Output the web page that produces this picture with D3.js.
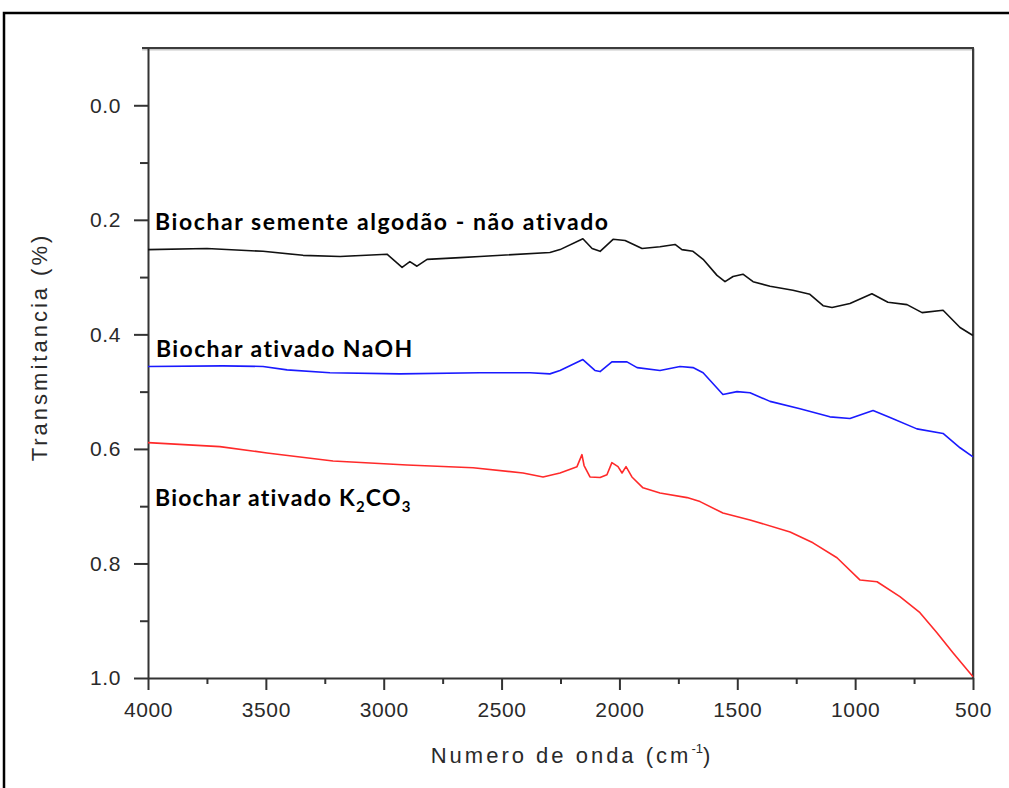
<!DOCTYPE html>
<html>
<head>
<meta charset="utf-8">
<script src="https://cdn.jsdelivr.net/npm/d3@7"></script>
<style>
  html, body { margin: 0; padding: 0; background: #fff; }
  svg { display: block; }
</style>
</head>
<body>
<script>
// ---------- DATA ----------
const xTicks = [4000, 3500, 3000, 2500, 2000, 1500, 1000, 500];
const xMinorTicks = [3750, 3250, 2750, 2250, 1750, 1250, 750];
const yTicks = [0.0, 0.2, 0.4, 0.6, 0.8, 1.0];
const yMinorTicks = [0.1, 0.3, 0.5, 0.7, 0.9];

const seriesNames = ["Biochar semente algodão - não ativado", "Biochar ativado NaOH", "Biochar ativado K2CO3"];
const seriesColors = ["#111111", "#1a1aff", "#ff2a2a"];

const naoAtivadoWn = [4000, 3750, 3512, 3342, 3185, 2986, 2922, 2889, 2859, 2816, 2676, 2592, 2295, 2252, 2155, 2116, 2082, 2027, 1976, 1904, 1828, 1764, 1735, 1688, 1645, 1586, 1552, 1518, 1476, 1433, 1361, 1264, 1192, 1136, 1098, 1022, 929, 861, 780, 716, 627, 555, 500];
const naoAtivadoT  = [0.252, 0.250, 0.255, 0.262, 0.264, 0.260, 0.283, 0.273, 0.281, 0.269, 0.266, 0.264, 0.257, 0.252, 0.233, 0.250, 0.255, 0.234, 0.236, 0.250, 0.247, 0.243, 0.252, 0.255, 0.269, 0.297, 0.308, 0.299, 0.295, 0.308, 0.316, 0.323, 0.330, 0.350, 0.353, 0.346, 0.329, 0.344, 0.348, 0.362, 0.358, 0.388, 0.402];

const naohWn = [4000, 3682, 3512, 3410, 3228, 2931, 2592, 2379, 2295, 2252, 2155, 2104, 2082, 2032, 1968, 1925, 1828, 1743, 1688, 1645, 1561, 1501, 1446, 1361, 1234, 1107, 1022, 924, 852, 738, 627, 555, 500];
const naohT  = [0.456, 0.455, 0.456, 0.462, 0.467, 0.469, 0.467, 0.467, 0.469, 0.463, 0.444, 0.463, 0.465, 0.448, 0.448, 0.458, 0.463, 0.456, 0.458, 0.467, 0.505, 0.500, 0.502, 0.517, 0.530, 0.544, 0.547, 0.533, 0.545, 0.565, 0.573, 0.598, 0.614];

const k2co3Wn = [4000, 3695, 3495, 3215, 2901, 2621, 2409, 2324, 2252, 2180, 2159, 2150, 2125, 2082, 2053, 2032, 2006, 1989, 1972, 1947, 1900, 1828, 1713, 1658, 1561, 1446, 1276, 1179, 1077, 979, 907, 810, 725, 653, 585, 500];
const k2co3T  = [0.589, 0.596, 0.607, 0.621, 0.628, 0.633, 0.642, 0.649, 0.642, 0.631, 0.610, 0.629, 0.649, 0.650, 0.645, 0.624, 0.631, 0.642, 0.631, 0.649, 0.668, 0.677, 0.685, 0.692, 0.712, 0.724, 0.745, 0.764, 0.790, 0.829, 0.832, 0.858, 0.886, 0.921, 0.956, 0.998];

// ---------- LAYOUT ----------
const W = 1009, H = 788;
const pL = 148, pR = 973, pT = 48, pB = 678;

const svg = d3.select("body").append("svg").attr("width", W).attr("height", H);

// outer frame
svg.append("rect").attr("x", 4).attr("y", 13).attr("width", 1100).attr("height", 900)
  .attr("fill", "none").attr("stroke", "#000").attr("stroke-width", 2.5);

const x = d3.scaleLinear().domain([4000, 500]).range([pL, pR]);
const y = d3.scaleLinear().domain([-0.1, 1.0]).range([pT, pB]);

// top / right frame of plot
svg.append("path")
  .attr("d", `M${pL - 6},${pT + 1.5} L${pR + 1},${pT + 1.5} L${pR + 1},${pB}`)
  .attr("fill", "none").attr("stroke", "#c8c8c8").attr("stroke-width", 2);
svg.append("path")
  .attr("d", `M${pL - 6},${pT} L${pR},${pT} L${pR},${pB}`)
  .attr("fill", "none").attr("stroke", "#3c3c3c").attr("stroke-width", 2);

const tickFont = "'Liberation Sans', Arial, sans-serif";

// Y axis
svg.append("g").attr("transform", `translate(${pL},0)`)
  .call(d3.axisLeft(y).tickValues(yTicks).tickFormat(d3.format(".1f")).tickSize(14).tickSizeOuter(0).tickPadding(13));
svg.append("g").attr("transform", `translate(${pL},0)`)
  .call(d3.axisLeft(y).tickValues(yMinorTicks).tickFormat("").tickSize(8).tickSizeOuter(0))
  .select(".domain").remove();

// X axis
svg.append("g").attr("transform", `translate(0,${pB})`)
  .call(d3.axisBottom(x).tickValues(xTicks).tickFormat(d3.format("d")).tickSize(12).tickSizeOuter(0).tickPadding(12));
svg.append("g").attr("transform", `translate(0,${pB})`)
  .call(d3.axisBottom(x).tickValues(xMinorTicks).tickFormat("").tickSize(6).tickSizeOuter(0))
  .select(".domain").remove();

svg.selectAll(".domain").attr("stroke", "#333").attr("stroke-width", 2);
svg.selectAll(".tick line").attr("stroke", "#333").attr("stroke-width", 2);
svg.selectAll(".tick text").attr("fill", "#2a2a2a").style("font-family", tickFont)
  .style("font-size", "21px").style("letter-spacing", "0.6px");

// axis titles
svg.append("text")
  .attr("transform", `translate(47,347) rotate(-90)`)
  .attr("text-anchor", "middle")
  .style("font-family", tickFont).style("font-size", "22px").style("letter-spacing", "3px")
  .attr("fill", "#2a2a2a")
  .text("Transmitancia (%)");

const xt = svg.append("text")
  .attr("x", 572).attr("y", 763)
  .attr("text-anchor", "middle")
  .style("font-family", tickFont).style("font-size", "22px").style("letter-spacing", "3px")
  .attr("fill", "#2a2a2a");
xt.append("tspan").text("Numero de onda (cm");
xt.append("tspan").attr("dy", -10).style("font-size", "13px").style("letter-spacing", "0px").text("-1");
xt.append("tspan").attr("dy", 10).text(")");

// ---------- LINES ----------
const line = d3.line().x(d => x(d[0])).y(d => y(d[1]));
const seriesData = [
  d3.zip(naoAtivadoWn, naoAtivadoT),
  d3.zip(naohWn, naohT),
  d3.zip(k2co3Wn, k2co3T)
];
svg.append("g").selectAll("path").data(seriesData).join("path")
  .attr("d", line)
  .attr("fill", "none")
  .attr("stroke", (d, i) => seriesColors[i])
  .attr("stroke-width", 1.6)
  .attr("stroke-linejoin", "round");

// ---------- ANNOTATIONS ----------
const annFont = "Lato, 'Open Sans', sans-serif";
const annSize = 23;
function fitSpacing(sel, target, nChars) {
  const w = sel.node().getBBox().width;
  sel.style("letter-spacing", ((target - w) / nChars) + "px");
}
const a1 = svg.append("text").attr("x", 155).attr("y", 230)
  .style("font-family", annFont).style("font-weight", 700).style("font-size", annSize + "px").attr("fill", "#000")
  .text(seriesNames[0]);
fitSpacing(a1, 455, seriesNames[0].length);

const a2 = svg.append("text").attr("x", 156).attr("y", 357)
  .style("font-family", annFont).style("font-weight", 700).style("font-size", annSize + "px").attr("fill", "#000")
  .text(seriesNames[1]);
fitSpacing(a2, 258, seriesNames[1].length);

const a3 = svg.append("text").attr("x", 155).attr("y", 506)
  .style("font-family", annFont).style("font-weight", 700).style("font-size", annSize + "px").attr("fill", "#000");
a3.append("tspan").text("Biochar ativado K");
a3.append("tspan").attr("dy", 6).style("font-size", "0.65em").text("2");
a3.append("tspan").attr("dy", -6).text("CO");
a3.append("tspan").attr("dy", 6).style("font-size", "0.65em").text("3");
fitSpacing(a3, 257, 21);
</script>
</body>
</html>
